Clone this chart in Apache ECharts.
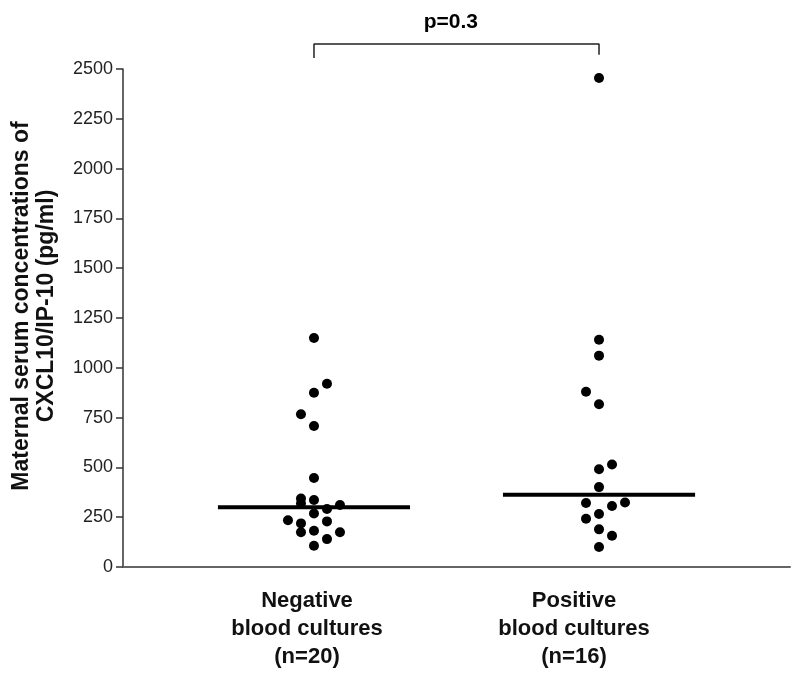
<!DOCTYPE html>
<html>
<head>
<meta charset="utf-8">
<script src="https://cdn.jsdelivr.net/npm/echarts@6/dist/echarts.min.js"></script>
<style>html,body{margin:0;padding:0;background:#fff}#c{width:800px;height:679px}</style>
</head>
<body>
<div id="c"></div>
<script>
// ---- data ----
var categories = ['Negative\nblood cultures\n(n=20)', 'Positive\nblood cultures\n(n=16)'];
var groupCenters = [1, 2];
var negValues = [1150, 920, 875, 767, 708, 447, 344, 336, 319, 311, 291, 269, 235, 219, 229, 174, 182, 174, 140, 107];
var negCols   = [0, 1, 0, -1, 0, 0, -1, 0, -1, 2, 1, 0, -2, -1, 1, -1, 0, 2, 1, 0];
var posValues = [2455, 1141, 1061, 880, 817, 515, 491, 401, 321, 324, 306, 266, 242, 189, 157, 100];
var posCols   = [0, 0, 0, -1, 0, 1, 0, 0, -1, 2, 1, 0, -1, 0, 1, 0];
var medians = [300, 363];
var yTicks = [0, 250, 500, 750, 1000, 1250, 1500, 1750, 2000, 2250, 2500];
var pText = 'p=0.3';
var bracketY = 2625;          // bracket height (value units)
var bracketEnds = [2555, 2572]; // bottom of left / right bracket legs
var pTextY = 2735;

// ---- layout ----
var colStep = 0.0456;   // horizontal jitter step in x units
var halfMed = 0.337;    // half width of median bar
var FONT = 'Liberation Sans, Arial, Helvetica, sans-serif';

function pts(vals, cols, center) {
  return vals.map(function (v, i) { return [center + cols[i] * colStep, v]; });
}

var chart = echarts.init(document.getElementById('c'), null, {renderer: 'canvas'});
chart.setOption({
  backgroundColor: '#fff',
  animation: false,
  grid: [
    {left: 123, right: 10, top: 69, bottom: 112, containLabel: false},
    {left: 173.5, right: 92.5, top: 69, bottom: 112, containLabel: false}
  ],
  xAxis: [
    {
      type: 'value', gridIndex: 0, min: 0.33, max: 2.67,
      axisLine: {show: true, lineStyle: {color: '#666', width: 2}},
      axisTick: {show: false}, axisLabel: {show: false}, splitLine: {show: false}
    },
    {
      type: 'category', gridIndex: 1, data: categories, boundaryGap: true,
      axisLine: {show: false}, axisTick: {show: false}, splitLine: {show: false},
      axisLabel: {
        show: true, margin: 20, interval: 0,
        fontFamily: FONT, fontSize: 22, fontWeight: 'bold', lineHeight: 28, color: '#111'
      }
    }
  ],
  yAxis: [
    {
      type: 'value', gridIndex: 0, min: yTicks[0], max: yTicks[yTicks.length - 1], interval: 250,
      axisLine: {show: true, lineStyle: {color: '#333', width: 1.5}},
      axisTick: {show: true, length: 7, lineStyle: {color: '#333', width: 1.5}},
      axisLabel: {fontFamily: FONT, fontSize: 18, color: '#222', margin: 10,
        formatter: function (v) { return String(v); }},
      splitLine: {show: false},
      name: 'Maternal serum concentrations of\nCXCL10/IP-10 (pg/ml)',
      nameLocation: 'middle', nameRotate: 90, nameGap: 64,
      nameTextStyle: {fontFamily: FONT, fontSize: 23, fontWeight: 'bold', lineHeight: 25, color: '#111',
        padding: [0, 0, 0, 24]}
    },
    {
      type: 'value', gridIndex: 1, min: 0, max: 2500, show: false
    }
  ],
  series: [
    {
      type: 'scatter', xAxisIndex: 0, yAxisIndex: 0, symbol: 'circle', symbolSize: 10,
      itemStyle: {color: '#000', opacity: 1}, data: pts(negValues, negCols, groupCenters[0]), z: 3
    },
    {
      type: 'scatter', xAxisIndex: 0, yAxisIndex: 0, symbol: 'circle', symbolSize: 10,
      itemStyle: {color: '#000', opacity: 1}, data: pts(posValues, posCols, groupCenters[1]), z: 3
    },
    {
      type: 'line', xAxisIndex: 0, yAxisIndex: 0, symbol: 'none',
      lineStyle: {color: '#000', width: 4},
      data: [[groupCenters[0] - halfMed, medians[0]], [groupCenters[0] + halfMed, medians[0]]], z: 4
    },
    {
      type: 'line', xAxisIndex: 0, yAxisIndex: 0, symbol: 'none',
      lineStyle: {color: '#000', width: 4},
      data: [[groupCenters[1] - halfMed, medians[1]], [groupCenters[1] + halfMed, medians[1]]], z: 4
    },
    {
      type: 'line', xAxisIndex: 0, yAxisIndex: 0, symbol: 'none', clip: false,
      lineStyle: {color: '#222', width: 1.5},
      data: [[groupCenters[0], bracketEnds[0]], [groupCenters[0], bracketY],
             [groupCenters[1], bracketY], [groupCenters[1], bracketEnds[1]]]
    },
    {
      type: 'scatter', xAxisIndex: 0, yAxisIndex: 0, symbolSize: 0, clip: false,
      itemStyle: {opacity: 1},
      data: [[(groupCenters[0] + groupCenters[1]) / 2 - 0.02, pTextY]],
      label: {show: true, position: 'inside', formatter: pText, opacity: 1,
        fontFamily: FONT, fontSize: 21, fontWeight: 'bold', color: '#000'}
    }
  ]
});
</script>
</body>
</html>
